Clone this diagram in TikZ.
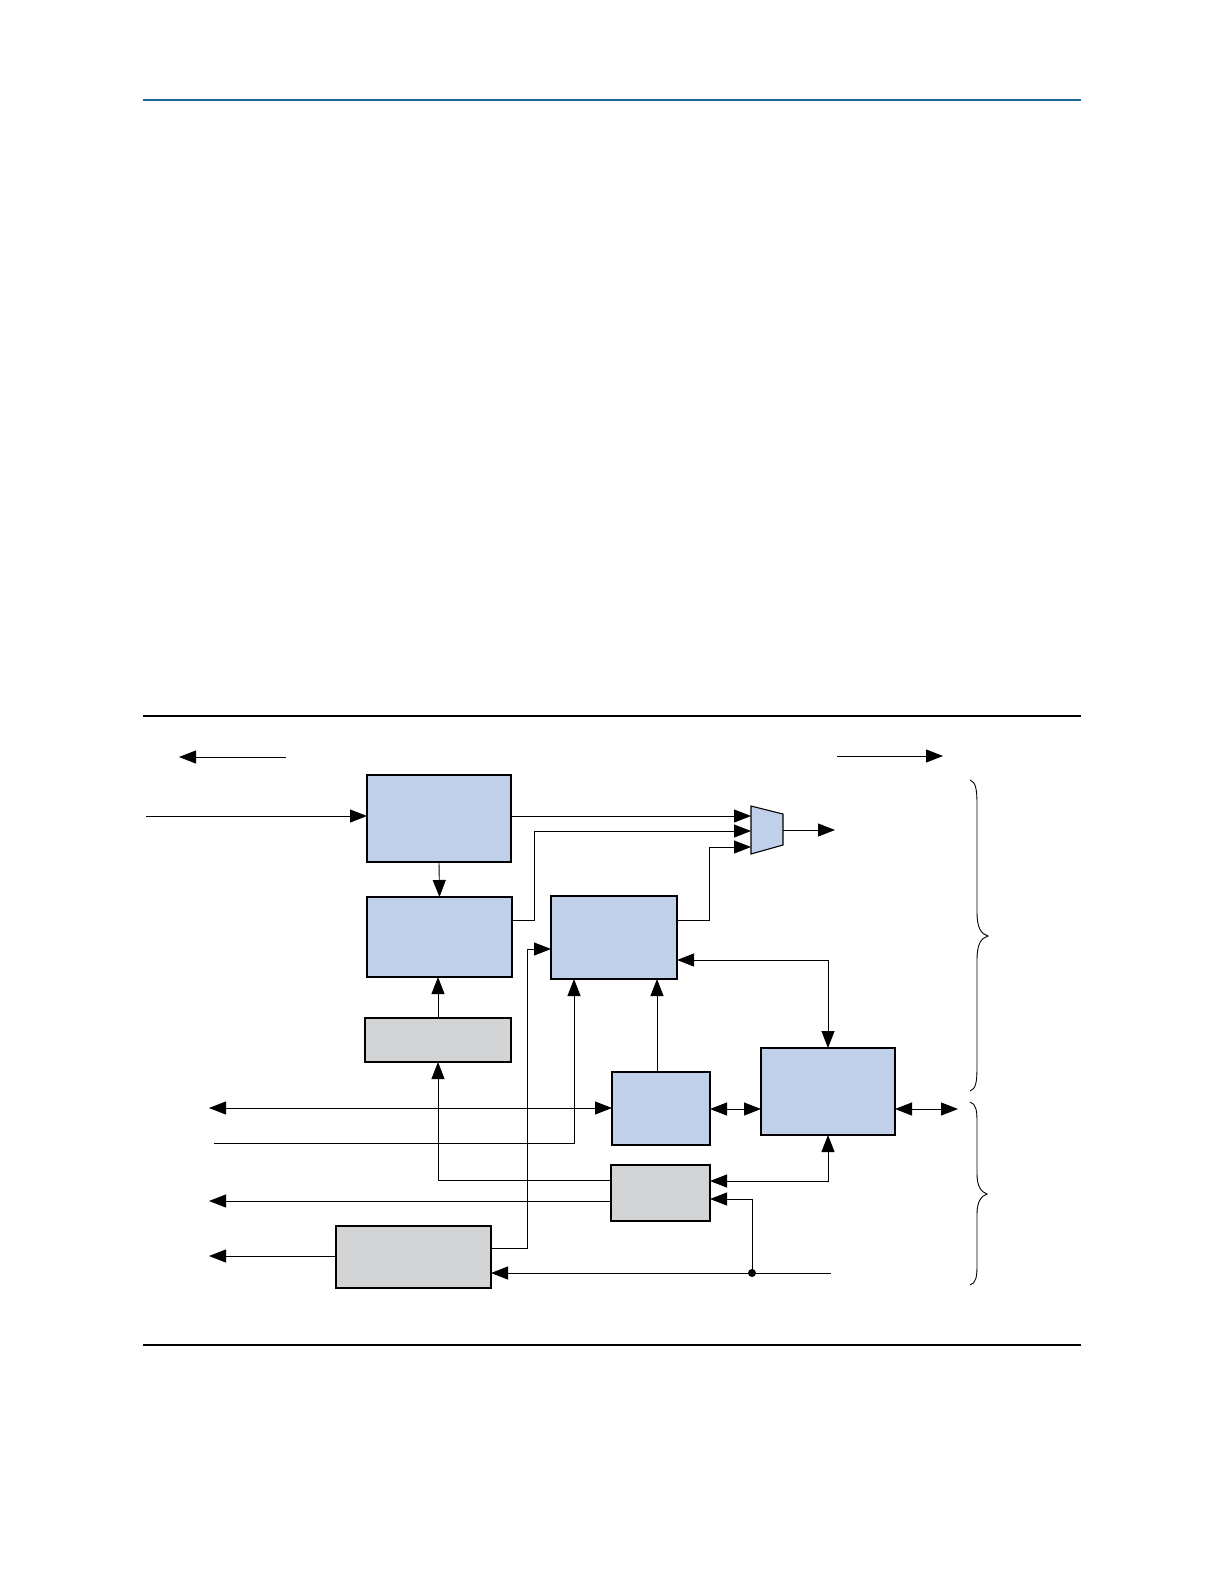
\documentclass[tikz,border=0pt]{standalone}
\usetikzlibrary{arrows.meta,calc}
\definecolor{boxblue}{RGB}{192,208,232}
\definecolor{boxgray}{RGB}{211,212,214}
\definecolor{rulblue}{RGB}{26,104,150}
\begin{document}
\begin{tikzpicture}[x=1pt,y=-1pt,
  bluebox/.style={draw=black,line width=1.1pt,fill=boxblue,inner sep=0pt,outer sep=0pt},
  graybox/.style={draw=black,line width=1.1pt,fill=boxgray,inner sep=0pt,outer sep=0pt},
  conn/.style={line width=0.9pt},
  arr/.style={conn,-{Triangle[length=17pt,width=13pt]}},
  barr/.style={conn,{Triangle[length=17pt,width=13pt]}-{Triangle[length=17pt,width=13pt]}},
  rul/.style={line width=1.2pt}]
\useasboundingbox (0,0) rectangle (1224,1584);
% rules
\draw[line width=2pt,rulblue] (143,100) -- (1081,100);
\draw[rul] (143,716) -- (1081,716);
\draw[rul] (143,1345) -- (1081,1345);
% boxes
\node[bluebox,minimum width=144pt,minimum height=87pt] (A) at (439,818.5) {};
\node[bluebox,minimum width=145pt,minimum height=80pt] (B) at (439.5,937) {};
\node[bluebox,minimum width=126pt,minimum height=83pt] (C) at (614,937.5) {};
\node[graybox,minimum width=146pt,minimum height=44pt] (D) at (438,1040) {};
\node[bluebox,minimum width=98pt,minimum height=73pt] (F) at (661,1108.5) {};
\node[bluebox,minimum width=134pt,minimum height=87pt] (E) at (828,1091.5) {};
\node[graybox,minimum width=99pt,minimum height=56pt] (G) at (660.5,1193) {};
\node[graybox,minimum width=155pt,minimum height=62pt] (H) at (413.5,1257) {};
% mux
\draw[line width=1.1pt,fill=boxblue] (751,806) -- (783,814) -- (783,845) -- (751,854) -- cycle;
\coordinate (m1) at (751,816);
\coordinate (m2) at (751,831);
\coordinate (m3) at (751,847);
\coordinate (mo) at (783,830);
\coordinate (mout) at (835,830);
% free ends
\coordinate (in1) at (146,816);
\coordinate (tl1) at (286,757);
\coordinate (tl2) at (179,757);
\coordinate (tr1) at (837,756);
\coordinate (tr2) at (943,756);
\coordinate (lb) at (209,1108);
\coordinate (ls) at (214,1143);
\coordinate (lg) at (209,1201);
\coordinate (lh) at (209,1256);
\coordinate (rin) at (831,1273);
\coordinate (dot) at (752,1273);
\coordinate (re) at (958,1109);
% connectors
\draw[arr] (tl1) -- (tl2);
\draw[arr] (tr1) -- (tr2);
\draw[arr] (in1) -- (A.west |- in1);
\draw[arr] (A.south) -- (B.north);
\draw[arr] (A.east |- m1) -- (m1);
\draw[arr] (B.east |- 0,920) -- (534,920) |- (m2);
\draw[arr] (C.east |- 0,920) -- (709,920) |- (m3);
\draw[arr] (mo) -- (mout);
\draw[barr] (C.east |- 0,960) -| (E.north);
\draw[arr] (D.north) -- (B.south -| D.north);
\draw[arr] (G.west |- 0,1180) -| (D.south);
\draw[barr] (lb) -- (F.west |- lb);
\draw[arr] (ls) -| (574,0 |- C.south);
\draw[arr] (H.east |- 0,1248) -- (527,1248) |- (C.west |- 0,949);
\draw[arr] (G.west |- lg) -- (lg);
\draw[arr] (H.west |- lh) -- (lh);
\draw[arr] (rin) -- (H.east |- rin);
\draw[arr] (dot) |- (G.east |- 0,1199);
\fill (dot) circle (4pt);
\draw[barr] (G.east |- 0,1181) -| (E.south);
\draw[barr] (F.east |- 0,1109) -- (E.west |- 0,1109);
\draw[barr] (E.east |- re) -- (re);
\draw[arr] (F.north -| 657,0) -- (C.south -| 657,0);
% braces
\draw[line width=0.9pt] (970,780) .. controls (976,782) and (977,790) .. (977,805)
  -- (977,912) .. controls (977,928) and (981,934) .. (988,936)
  .. controls (981,938) and (977,944) .. (977,960)
  -- (977,1066) .. controls (977,1082) and (976,1089) .. (970,1091);
\draw[line width=0.9pt] (970,1102) .. controls (976,1104) and (977,1110) .. (977,1122)
  -- (977,1174) .. controls (977,1186) and (981,1192) .. (987,1194)
  .. controls (981,1196) and (977,1202) .. (977,1214)
  -- (977,1265) .. controls (977,1277) and (976,1283) .. (970,1285);
\end{tikzpicture}
\end{document}
